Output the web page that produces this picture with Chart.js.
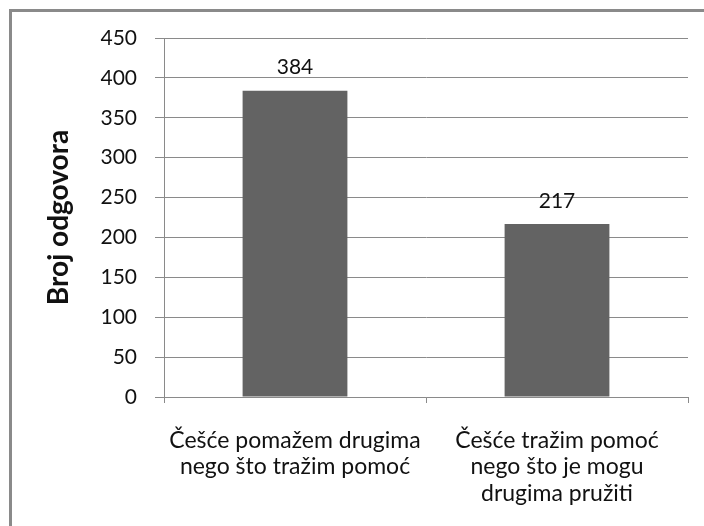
<!DOCTYPE html>
<html>
<head>
<meta charset="utf-8">
<script src="https://cdn.jsdelivr.net/npm/chart.js@4/dist/chart.umd.min.js"></script>
<style>
  html, body { margin: 0; padding: 0; background: #fff; }
  #wrap { position: relative; width: 704px; height: 526px; overflow: hidden; }
  #frame { position: absolute; left: 9px; top: 9px; width: 720px; height: 540px;
           border-left: 3px solid #8a8a8a; border-top: 3px solid #8a8a8a; }
  canvas { position: absolute; left: 0; top: 0; }
</style>
</head>
<body>
<div id="wrap">
  <div id="frame"></div>
  <canvas id="c" width="704" height="526"></canvas>
</div>
<script>
const categories = [
  ["Češće pomažem drugima", "nego što tražim pomoć"],
  ["Češće tražim pomoć", "nego što je mogu", "drugima pružiti"]
];
const values = [384, 217];
const yTicks = [0, 50, 100, 150, 200, 250, 300, 350, 400, 450];
const yTitle = "Broj odgovora";

const FONT = "Lato, 'Liberation Sans', sans-serif";

const valueLabels = {
  id: 'valueLabels',
  afterDatasetsDraw(chart) {
    const ctx = chart.ctx;
    const meta = chart.getDatasetMeta(0);
    ctx.save();
    ctx.font = "21px " + FONT;
    ctx.fillStyle = "#111";
    ctx.textAlign = "center";
    ctx.textBaseline = "middle";
    meta.data.forEach((bar, i) => {
      ctx.fillText(String(values[i]), bar.x, bar.y - 23);
    });
    ctx.restore();
  }
};

new Chart(document.getElementById('c'), {
  type: 'bar',
  data: {
    labels: categories,
    datasets: [{
      data: values,
      backgroundColor: '#636363',
      borderWidth: 0,
      categoryPercentage: 1.0,
      barPercentage: 0.4
    }]
  },
  options: {
    responsive: false,
    animation: false,
    events: [],
    layout: { padding: { left: 42, top: 38, right: 16, bottom: 0 } },
    plugins: { legend: { display: false }, tooltip: { enabled: false } },
    scales: {
      x: {
        offset: true,
        grid: { display: true, drawOnChartArea: false, drawTicks: true, tickLength: 6, color: '#8a8a8a', offset: true },
        border: { display: true, color: '#8a8a8a', width: 1 },
        ticks: { color: '#111', font: { family: FONT, size: 23, lineHeight: 1.15 }, padding: 24, maxRotation: 0, autoSkip: false },
        afterFit(scale) { scale.height = 129; }
      },
      y: {
        min: 0,
        max: 450,
        afterBuildTicks(scale) { scale.ticks = yTicks.map(v => ({ value: v })); },
        grid: { color: '#8a8a8a', lineWidth: 1, drawTicks: true, tickLength: 9 },
        border: { display: true, color: '#8a8a8a', width: 1 },
        ticks: { color: '#111', font: { family: FONT, size: 21 }, padding: 18 },
        title: { display: true, text: yTitle, color: '#111', font: { family: FONT, size: 28, weight: 'bold', lineHeight: 1.2 }, padding: { top: 0, bottom: 0 } },
        afterFit(scale) { scale.width = 122; }
      }
    }
  },
  plugins: [valueLabels]
});
</script>
</body>
</html>
